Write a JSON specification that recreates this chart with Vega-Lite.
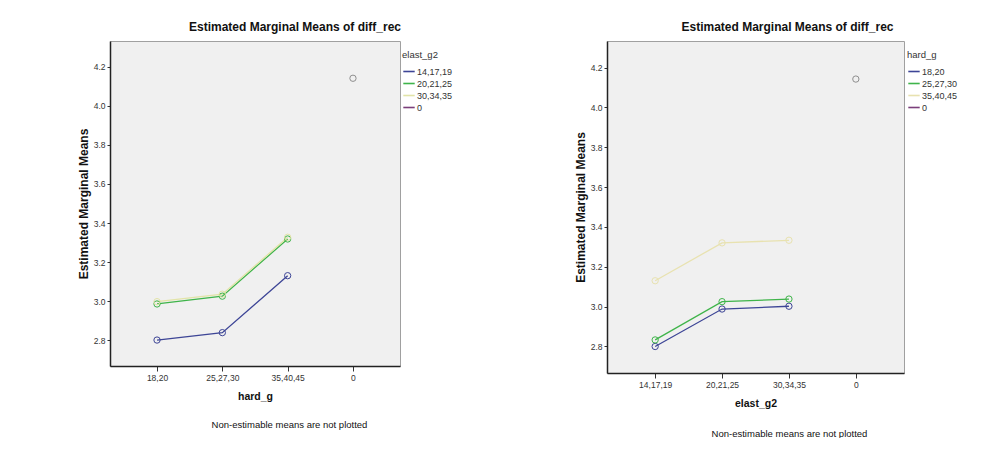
{
  "$schema": "https://vega.github.io/schema/vega-lite/v6.json",
  "padding": {"left": 76, "top": 20, "right": 0, "bottom": 0},
  "background": "white",
  "datasets": {
    "left": [
      {"hard_g": "18,20", "elast_g2": "14,17,19", "mean": 2.80},
      {"hard_g": "25,27,30", "elast_g2": "14,17,19", "mean": 2.838},
      {"hard_g": "35,40,45", "elast_g2": "14,17,19", "mean": 3.13},
      {"hard_g": "18,20", "elast_g2": "20,21,25", "mean": 2.985},
      {"hard_g": "25,27,30", "elast_g2": "20,21,25", "mean": 3.025},
      {"hard_g": "35,40,45", "elast_g2": "20,21,25", "mean": 3.318},
      {"hard_g": "18,20", "elast_g2": "30,34,35", "mean": 2.997},
      {"hard_g": "25,27,30", "elast_g2": "30,34,35", "mean": 3.035},
      {"hard_g": "35,40,45", "elast_g2": "30,34,35", "mean": 3.327},
      {"hard_g": "0", "elast_g2": "0", "mean": 4.142}
    ],
    "right": [
      {"elast_g2": "14,17,19", "hard_g": "18,20", "mean": 2.80},
      {"elast_g2": "20,21,25", "hard_g": "18,20", "mean": 2.988},
      {"elast_g2": "30,34,35", "hard_g": "18,20", "mean": 3.002},
      {"elast_g2": "14,17,19", "hard_g": "25,27,30", "mean": 2.833},
      {"elast_g2": "20,21,25", "hard_g": "25,27,30", "mean": 3.025},
      {"elast_g2": "30,34,35", "hard_g": "25,27,30", "mean": 3.038},
      {"elast_g2": "14,17,19", "hard_g": "35,40,45", "mean": 3.13},
      {"elast_g2": "20,21,25", "hard_g": "35,40,45", "mean": 3.32},
      {"elast_g2": "30,34,35", "hard_g": "35,40,45", "mean": 3.333},
      {"elast_g2": "0", "hard_g": "0", "mean": 4.142}
    ]
  },
  "resolve": {"scale": {"color": "independent", "x": "independent", "y": "independent"}, "legend": {"color": "independent"}},
  "hconcat": [
    {
      "width": 290,
      "height": 325,
      "title": {"text": "Estimated Marginal Means of diff_rec", "dx": 40},
      "data": {"name": "left"},
      "resolve": {"axis": {"x": "independent"}},
      "layer": [
        {
          "transform": [{"filter": "datum.elast_g2 !== '0'"}],
          "mark": {"type": "line", "strokeWidth": 1.3, "point": {"filled": false, "size": 40, "strokeWidth": 1}},
          "encoding": {
            "x": {"field": "hard_g", "type": "nominal", "sort": ["18,20", "25,27,30", "35,40,45", "0"],
                  "scale": {"type": "point", "domain": ["18,20", "25,27,30", "35,40,45", "0"], "padding": 0.72},
                  "axis": {"title": "hard_g", "orient": "bottom", "labelAngle": 0, "tickSize": 5, "titlePadding": 10}},
            "y": {"field": "mean", "type": "quantitative",
                  "scale": {"domain": [2.667, 4.333], "nice": false, "zero": false},
                  "axis": {"title": "Estimated Marginal Means", "values": [2.8, 3.0, 3.2, 3.4, 3.6, 3.8, 4.0, 4.2], "format": ".1f"}},
            "color": {"field": "elast_g2", "type": "nominal",
                      "scale": {"domain": ["14,17,19", "20,21,25", "30,34,35", "0"], "range": ["#3d4596", "#3fb44a", "#e2e4a8", "#7b3f7b"]},
                      "legend": {"title": "elast_g2", "orient": "none", "legendX": 292, "legendY": 9}}
          }
        },
        {
          "transform": [{"filter": "datum.elast_g2 === '0'"}],
          "mark": {"type": "point", "filled": false, "size": 40, "strokeWidth": 1, "color": "#666666"},
          "encoding": {
            "x": {"field": "hard_g", "type": "nominal",
                  "axis": {"orient": "bottom", "labels": false, "ticks": false, "domain": false,
                           "title": "Non-estimable means are not plotted", "titleFontWeight": "normal", "titleFontSize": 9.5,
                           "titleX": 179, "titleY": 58, "titleAlign": "center", "titleBaseline": "middle"}},
            "y": {"field": "mean", "type": "quantitative"}
          }
        }
      ]
    },
    {
      "width": 297,
      "height": 332,
      "title": {"text": "Estimated Marginal Means of diff_rec", "dx": 32},
      "data": {"name": "right"},
      "resolve": {"axis": {"x": "independent"}},
      "layer": [
        {
          "transform": [{"filter": "datum.hard_g !== '0'"}],
          "mark": {"type": "line", "strokeWidth": 1.3, "point": {"filled": false, "size": 40, "strokeWidth": 1}},
          "encoding": {
            "x": {"field": "elast_g2", "type": "nominal", "sort": ["14,17,19", "20,21,25", "30,34,35", "0"],
                  "scale": {"type": "point", "domain": ["14,17,19", "20,21,25", "30,34,35", "0"], "padding": 0.72},
                  "axis": {"title": "elast_g2", "orient": "bottom", "labelAngle": 0, "tickSize": 5, "titlePadding": 10}},
            "y": {"field": "mean", "type": "quantitative",
                  "scale": {"domain": [2.667, 4.333], "nice": false, "zero": false},
                  "axis": {"title": "Estimated Marginal Means", "values": [2.8, 3.0, 3.2, 3.4, 3.6, 3.8, 4.0, 4.2], "format": ".1f"}},
            "color": {"field": "hard_g", "type": "nominal",
                      "scale": {"domain": ["18,20", "25,27,30", "35,40,45", "0"], "range": ["#3d4596", "#3fb44a", "#e8e2b0", "#7b3f7b"]},
                      "legend": {"title": "hard_g", "orient": "none", "legendX": 300, "legendY": 9}}
          }
        },
        {
          "transform": [{"filter": "datum.hard_g === '0'"}],
          "mark": {"type": "point", "filled": false, "size": 40, "strokeWidth": 1, "color": "#666666"},
          "encoding": {
            "x": {"field": "elast_g2", "type": "nominal",
                  "axis": {"orient": "bottom", "labels": false, "ticks": false, "domain": false,
                           "title": "Non-estimable means are not plotted", "titleFontWeight": "normal", "titleFontSize": 9.5,
                           "titleX": 182, "titleY": 60, "titleAlign": "center", "titleBaseline": "middle"}},
            "y": {"field": "mean", "type": "quantitative"}
          }
        }
      ]
    }
  ],
  "spacing": 119,
  "config": {
    "font": "Liberation Sans, Arial, sans-serif",
    "view": {"fill": "#f0f0f0", "stroke": "#a0a0a0", "strokeWidth": 1},
    "title": {"fontSize": 12, "fontWeight": "bold", "color": "#111", "offset": 7, "anchor": "middle"},
    "axis": {"grid": false, "domainColor": "#222", "domainWidth": 1.5, "tickColor": "#333", "tickSize": 3,
             "labelFontSize": 8.5, "labelColor": "#333", "labelPadding": 2,
             "titleFontWeight": "bold", "titleFontSize": 10.5, "titleColor": "#111"},
    "axisY": {"titleFontSize": 12, "titlePadding": 3},
    "legend": {"symbolType": "stroke", "symbolSize": 130, "symbolStrokeWidth": 1.6, "padding": 0,
               "titleFontSize": 9.5, "titleFontWeight": "normal", "titleColor": "#333", "labelFontSize": 9, "labelColor": "#333",
               "rowPadding": 0, "titlePadding": 5, "labelOffset": 1}
  }
}
